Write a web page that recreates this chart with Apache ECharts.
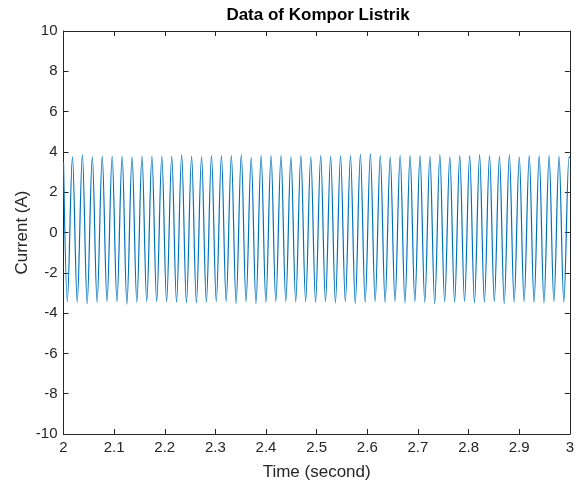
<!DOCTYPE html>
<html>
<head>
<meta charset="utf-8">
<title>Data of Kompor Listrik</title>
<script src="https://cdn.jsdelivr.net/npm/echarts@6/dist/echarts.min.js"></script>
<style>
  html, body { margin: 0; padding: 0; background: #fff; }
  #chart { width: 577px; height: 487px; }
</style>
</head>
<body>
<div id="chart"></div>
<script>
// Current of the electric stove (kompor listrik), 2 s – 3 s.
// Each cycle is stored as its negative peak followed by its positive peak.
const troughTime = [
  2.0075, 2.0271, 2.0467, 2.0663, 2.0859, 2.1055, 2.1252, 2.1448, 2.1644, 2.1840,
  2.2036, 2.2232, 2.2428, 2.2624, 2.2821, 2.3017, 2.3213, 2.3409, 2.3605, 2.3801,
  2.3997, 2.4193, 2.4390, 2.4586, 2.4782, 2.4978, 2.5174, 2.5370, 2.5566, 2.5762,
  2.5958, 2.6155, 2.6351, 2.6547, 2.6743, 2.6939, 2.7135, 2.7331, 2.7527, 2.7724,
  2.7920, 2.8116, 2.8312, 2.8508, 2.8704, 2.8900, 2.9096, 2.9293, 2.9489, 2.9685,
  2.9881
];
const troughCurrent = [
  -3.43, -3.46, -3.53, -3.46, -3.43, -3.43, -3.56, -3.46, -3.43, -3.43,
  -3.43, -3.46, -3.49, -3.49, -3.46, -3.43, -3.43, -3.53, -3.43, -3.53,
  -3.46, -3.43, -3.43, -3.43, -3.43, -3.46, -3.43, -3.49, -3.43, -3.53,
  -3.46, -3.43, -3.46, -3.43, -3.49, -3.43, -3.46, -3.53, -3.43, -3.46,
  -3.43, -3.49, -3.46, -3.43, -3.53, -3.46, -3.43, -3.46, -3.49, -3.43,
  -3.46
];
const peakTime = [
  2.0177, 2.0373, 2.0569, 2.0765, 2.0961, 2.1158, 2.1354, 2.1550, 2.1746, 2.1942,
  2.2138, 2.2334, 2.2530, 2.2727, 2.2923, 2.3119, 2.3315, 2.3511, 2.3707, 2.3903,
  2.4099, 2.4296, 2.4492, 2.4688, 2.4884, 2.5080, 2.5276, 2.5472, 2.5668, 2.5864,
  2.6061, 2.6257, 2.6453, 2.6649, 2.6845, 2.7041, 2.7237, 2.7433, 2.7630, 2.7826,
  2.8022, 2.8218, 2.8414, 2.8610, 2.8806, 2.9002, 2.9199, 2.9395, 2.9591, 2.9787,
  2.9983
];
const peakCurrent = [
  3.75, 3.85, 3.75, 3.78, 3.78, 3.78, 3.75, 3.78, 3.78, 3.78,
  3.78, 3.85, 3.78, 3.75, 3.82, 3.82, 3.82, 3.85, 3.72, 3.82,
  3.82, 3.82, 3.75, 3.82, 3.75, 3.82, 3.78, 3.82, 3.82, 3.88,
  3.92, 3.82, 3.75, 3.82, 3.82, 3.82, 3.78, 3.85, 3.75, 3.82,
  3.82, 3.85, 3.82, 3.78, 3.85, 3.75, 3.82, 3.82, 3.82, 3.78,
  3.75
];
// samples at the window edges
const startSample = [2.0, 3.5];
const endSample = [3.0, 3.7];

const xTicks = { min: 2, max: 3, step: 0.1 };
const yTicks = { min: -10, max: 10, step: 2 };

const points = [startSample];
for (let i = 0; i < peakTime.length; i++) {
  points.push([troughTime[i], troughCurrent[i]]);
  points.push([peakTime[i], peakCurrent[i]]);
}
points.push(endSample);

const ink = '#262626';
const font = 'Liberation Sans, Arial, Helvetica, sans-serif';

function boxAxis(range, position, showLabels, extra) {
  return Object.assign({
    type: 'value',
    position: position,
    min: range.min,
    max: range.max,
    interval: range.step,
    axisLine: { show: true, onZero: false, lineStyle: { color: ink, width: 1 } },
    axisTick: { show: true, inside: true, length: 5, lineStyle: { color: ink, width: 1 } },
    splitLine: { show: false },
    axisLabel: {
      show: showLabels,
      color: ink,
      fontFamily: font,
      fontSize: 15,
      margin: 6,
      formatter: v => String(+v.toFixed(1))
    }
  }, extra || {});
}

const chart = echarts.init(document.getElementById('chart'), null, { renderer: 'canvas' });
chart.setOption({
  backgroundColor: '#ffffff',
  animation: false,
  grid: { left: 63.5, right: 4, top: 31, bottom: 53, containLabel: false },
  graphic: [{
    type: 'text',
    x: 318,
    y: 7,
    style: {
      text: 'Data of Kompor Listrik',
      fill: '#000',
      font: 'bold 17px ' + font,
      textAlign: 'center',
      textVerticalAlign: 'top'
    }
  }],
  xAxis: [
    boxAxis(xTicks, 'bottom', true, {
      name: 'Time (second)',
      nameLocation: 'middle',
      nameGap: 30,
      nameMoveOverlap: false,
      nameTextStyle: { color: ink, fontFamily: font, fontSize: 17 }
    }),
    boxAxis(xTicks, 'top', false)
  ],
  yAxis: [
    boxAxis(yTicks, 'left', true, {
      name: 'Current (A)',
      nameLocation: 'middle',
      nameGap: 33,
      nameMoveOverlap: false,
      nameTextStyle: { color: ink, fontFamily: font, fontSize: 17 }
    }),
    boxAxis(yTicks, 'right', false)
  ],
  series: [{
    type: 'line',
    xAxisIndex: 0,
    yAxisIndex: 0,
    data: points,
    showSymbol: false,
    smooth: 0.35,
    smoothMonotone: 'x',
    clip: true,
    lineStyle: { color: '#0072BD', width: 1.2 }
  }]
});
</script>
</body>
</html>
